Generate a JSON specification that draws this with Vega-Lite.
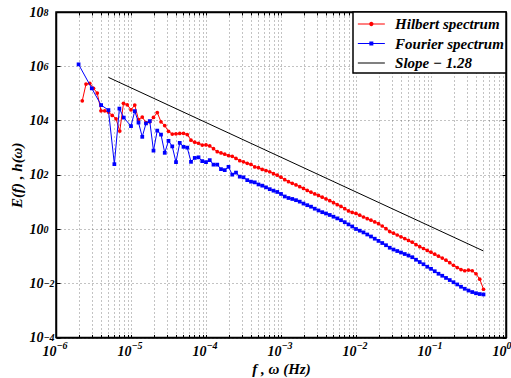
{
  "$schema": "https://vega.github.io/schema/vega-lite/v6.json",
  "width": 450,
  "height": 325.5,
  "autosize": "none",
  "padding": {"left": 56, "top": 12, "right": 5, "bottom": 40.5},
  "background": "white",
  "datasets": {
    "hilbert": [{"f":2.239e-6,"E":53300},{"f":2.512e-6,"E":220000},{"f":2.818e-6,"E":234000},{"f":3.162e-6,"E":153000},{"f":3.548e-6,"E":102600},{"f":3.981e-6,"E":22800},{"f":4.467e-6,"E":22800},{"f":5.012e-6,"E":20400},{"f":5.623e-6,"E":15400},{"f":6.31e-6,"E":11550},{"f":7.079e-6,"E":4060},{"f":7.943e-6,"E":42800},{"f":8.913e-6,"E":38000},{"f":1e-5,"E":24800},{"f":1.122e-5,"E":37000},{"f":1.259e-5,"E":10800},{"f":1.413e-5,"E":13400},{"f":1.585e-5,"E":8370},{"f":1.778e-5,"E":8950},{"f":1.995e-5,"E":13000},{"f":2.239e-5,"E":19600},{"f":2.512e-5,"E":8950},{"f":2.818e-5,"E":6480},{"f":3.162e-5,"E":4000},{"f":3.548e-5,"E":3150},{"f":3.981e-5,"E":3230},{"f":4.467e-5,"E":3340},{"f":5.012e-5,"E":3370},{"f":5.623e-5,"E":3040},{"f":6.31e-5,"E":1890},{"f":7.079e-5,"E":1580},{"f":7.943e-5,"E":1450},{"f":8.913e-5,"E":1240},{"f":1e-4,"E":1260},{"f":1.122e-4,"E":1155},{"f":1.259e-4,"E":911},{"f":1.413e-4,"E":706},{"f":1.585e-4,"E":637},{"f":1.778e-4,"E":571},{"f":1.995e-4,"E":511},{"f":2.239e-4,"E":478},{"f":2.512e-4,"E":399},{"f":2.818e-4,"E":329},{"f":3.162e-4,"E":299},{"f":3.548e-4,"E":263},{"f":3.981e-4,"E":240},{"f":4.467e-4,"E":194},{"f":5.012e-4,"E":183},{"f":5.623e-4,"E":157},{"f":6.31e-4,"E":142},{"f":7.079e-4,"E":129},{"f":7.943e-4,"E":110},{"f":8.913e-4,"E":96.7},{"f":0.001,"E":81.5},{"f":0.001122,"E":65.9},{"f":0.001259,"E":55.6},{"f":0.001413,"E":48.2},{"f":0.001585,"E":42},{"f":0.001778,"E":36.4},{"f":0.001995,"E":31.2},{"f":0.002239,"E":26.3},{"f":0.002512,"E":22.8},{"f":0.002818,"E":19.6},{"f":0.003162,"E":17.2},{"f":0.003548,"E":14.9},{"f":0.003981,"E":12.8},{"f":0.004467,"E":11.1},{"f":0.005012,"E":9.34},{"f":0.005623,"E":7.88},{"f":0.00631,"E":6.77},{"f":0.007079,"E":5.61},{"f":0.007943,"E":4.62},{"f":0.008913,"E":4.1},{"f":0.01,"E":3.73},{"f":0.01122,"E":3.23},{"f":0.01259,"E":2.77},{"f":0.01413,"E":2.4},{"f":0.01585,"E":2.11},{"f":0.01778,"E":1.83},{"f":0.01995,"E":1.57},{"f":0.02239,"E":1.29},{"f":0.02512,"E":1.03},{"f":0.02818,"E":0.802},{"f":0.03162,"E":0.7},{"f":0.03548,"E":0.601},{"f":0.03981,"E":0.516},{"f":0.04467,"E":0.442},{"f":0.05012,"E":0.38},{"f":0.05623,"E":0.326},{"f":0.0631,"E":0.263},{"f":0.07079,"E":0.222},{"f":0.07943,"E":0.191},{"f":0.08913,"E":0.162},{"f":0.1,"E":0.139},{"f":0.1122,"E":0.1175},{"f":0.1259,"E":0.0991},{"f":0.1413,"E":0.0851},{"f":0.1585,"E":0.0706},{"f":0.1778,"E":0.0571},{"f":0.1995,"E":0.0461},{"f":0.2239,"E":0.038},{"f":0.2512,"E":0.032},{"f":0.2818,"E":0.0289},{"f":0.3162,"E":0.0307},{"f":0.3548,"E":0.0289},{"f":0.3981,"E":0.0224},{"f":0.4467,"E":0.01405},{"f":0.5012,"E":0.00601}],
    "fourier": [{"f":2e-6,"E":1175000},{"f":3e-6,"E":153000},{"f":4e-6,"E":37000},{"f":5e-6,"E":24200},{"f":6e-6,"E":246},{"f":7e-6,"E":27500},{"f":8e-6,"E":12800},{"f":1e-5,"E":6220},{"f":1.122e-5,"E":22200},{"f":1.259e-5,"E":8370},{"f":1.413e-5,"E":2500},{"f":1.585e-5,"E":7820},{"f":1.778e-5,"E":9500},{"f":1.995e-5,"E":775},{"f":2.239e-5,"E":4240},{"f":2.512e-5,"E":3020},{"f":2.818e-5,"E":643},{"f":3.162e-5,"E":1780},{"f":3.548e-5,"E":1110},{"f":3.981e-5,"E":292},{"f":4.467e-5,"E":1500},{"f":5.012e-5,"E":1070},{"f":5.623e-5,"E":1000},{"f":6.31e-5,"E":299},{"f":7.079e-5,"E":417},{"f":7.943e-5,"E":439},{"f":8.913e-5,"E":318},{"f":1e-4,"E":292},{"f":1.122e-4,"E":346},{"f":1.259e-4,"E":236},{"f":1.413e-4,"E":236},{"f":1.585e-4,"E":161},{"f":1.778e-4,"E":148},{"f":1.995e-4,"E":196},{"f":2.239e-4,"E":101},{"f":2.512e-4,"E":120},{"f":2.818e-4,"E":85.1},{"f":3.162e-4,"E":80.2},{"f":3.548e-4,"E":63.2},{"f":3.981e-4,"E":55.6},{"f":4.467e-4,"E":52.4},{"f":5.012e-4,"E":43.9},{"f":5.623e-4,"E":39.6},{"f":6.31e-4,"E":34.3},{"f":7.079e-4,"E":29.4},{"f":7.943e-4,"E":25.9},{"f":8.913e-4,"E":23.2},{"f":0.001,"E":19.6},{"f":0.001122,"E":15.8},{"f":0.001259,"E":13.9},{"f":0.001413,"E":12.8},{"f":0.001585,"E":11.55},{"f":0.001778,"E":10.2},{"f":0.001995,"E":8.66},{"f":0.002239,"E":7.55},{"f":0.002512,"E":6.65},{"f":0.002818,"E":5.61},{"f":0.003162,"E":4.82},{"f":0.003548,"E":4.17},{"f":0.003981,"E":3.73},{"f":0.004467,"E":3.29},{"f":0.005012,"E":2.84},{"f":0.005623,"E":2.46},{"f":0.00631,"E":2.11},{"f":0.007079,"E":1.78},{"f":0.007943,"E":1.48},{"f":0.008913,"E":1.24},{"f":0.01,"E":1},{"f":0.01122,"E":0.866},{"f":0.01259,"E":0.749},{"f":0.01413,"E":0.627},{"f":0.01585,"E":0.529},{"f":0.01778,"E":0.439},{"f":0.01995,"E":0.364},{"f":0.02239,"E":0.304},{"f":0.02512,"E":0.2525},{"f":0.02818,"E":0.204},{"f":0.03162,"E":0.175},{"f":0.03548,"E":0.154},{"f":0.03981,"E":0.1358},{"f":0.04467,"E":0.1196},{"f":0.05012,"E":0.1052},{"f":0.05623,"E":0.0911},{"f":0.0631,"E":0.0737},{"f":0.07079,"E":0.0606},{"f":0.07943,"E":0.0502},{"f":0.08913,"E":0.0406},{"f":0.1,"E":0.034},{"f":0.1122,"E":0.0277},{"f":0.1259,"E":0.0224},{"f":0.1413,"E":0.0189},{"f":0.1585,"E":0.01569},{"f":0.1778,"E":0.01312},{"f":0.1995,"E":0.01089},{"f":0.2239,"E":0.00903},{"f":0.2512,"E":0.00743},{"f":0.2818,"E":0.00627},{"f":0.3162,"E":0.00538},{"f":0.3548,"E":0.00474},{"f":0.3981,"E":0.00428},{"f":0.4467,"E":0.004},{"f":0.5012,"E":0.00386}],
    "slope": [{"f":5e-6,"E":389000},{"f":0.5,"E":0.155}],
    "series": [{"s":"Hilbert spectrum"},{"s":"Fourier spectrum"},{"s":"Slope − 1.28"}]
  },
  "layer": [
    {
      "data": {"name": "hilbert"},
      "mark": {"type": "line", "color": "#ff0000", "strokeWidth": 1},
      "encoding": {
        "x": {"field": "f", "type": "quantitative", "scale": {"type": "log", "domain": [1e-6, 1], "nice": false},
          "axis": {"orient": "bottom", "values": [1e-6,2e-6,3e-6,4e-6,5e-6,6e-6,7e-6,8e-6,9e-6,1e-5,2e-5,3e-5,4e-5,5e-5,6e-5,7e-5,8e-5,9e-5,1e-4,2e-4,3e-4,4e-4,5e-4,6e-4,7e-4,8e-4,9e-4,0.001,0.002,0.003,0.004,0.005,0.006,0.007,0.008,0.009,0.01,0.02,0.03,0.04,0.05,0.06,0.07,0.08,0.09,0.1,0.2,0.3,0.4,0.5,0.6,0.7,0.8,0.9,1],
            "labelExpr": "abs(log(datum.value)/LN10 - round(log(datum.value)/LN10)) > 0.01 ? '' : '10'",
            "labelAlign": "right", "labelDx": 1, "labelBaseline": "middle", "labelFontSize": 14,
            "tickSize": -3, "labelPadding": 16.8, "grid": true, "title": "f , ω (Hz)", "titlePadding": 3}},
        "y": {"field": "E", "type": "quantitative", "scale": {"type": "log", "domain": [1e-4, 1e8], "nice": false},
          "axis": {"orient": "left", "values": [1e-4,1e-2,1,100,10000,1000000,100000000],
            "labelExpr": "'10'", "labelAlign": "right", "labelBaseline": "middle", "labelDy": 1, "labelFontSize": 14,
            "tickSize": -4, "labelPadding": 17, "grid": true, "title": "E(f) , h(ω)", "titlePadding": 5}}
      }
    },
    {
      "data": {"name": "hilbert"},
      "mark": {"type": "point", "shape": "circle", "filled": true, "color": "#ff0000", "size": 14, "opacity": 1},
      "encoding": {
        "x": {"field": "f", "type": "quantitative", "scale": {"type": "log", "domain": [1e-6, 1], "nice": false},
          "axis": {"orient": "bottom", "values": [1e-6,1e-5,1e-4,0.001,0.01,0.1,1],
            "labelExpr": "(round(log(datum.value)/LN10) < 0 ? '−' : '') + abs(round(log(datum.value)/LN10))",
            "labelAlign": "left", "labelDx": 0, "labelBaseline": "middle", "labelFontSize": 10,
            "ticks": false, "domain": false, "grid": false, "labelPadding": 7.5, "title": null}},
        "y": {"field": "E", "type": "quantitative", "scale": {"type": "log", "domain": [1e-4, 1e8], "nice": false},
          "axis": {"orient": "left", "values": [1e-4,1e-2,1,100,10000,1000000,100000000],
            "labelExpr": "(round(log(datum.value)/LN10) < 0 ? '−' : '') + abs(round(log(datum.value)/LN10))",
            "labelAlign": "left", "labelBaseline": "middle", "labelDy": -6, "labelFontSize": 10,
            "ticks": false, "domain": false, "grid": false, "labelPadding": 13, "title": null}}
      }
    },
    {
      "data": {"name": "fourier"},
      "mark": {"type": "line", "color": "#0000ff", "strokeWidth": 1},
      "encoding": {
        "x": {"field": "f", "type": "quantitative", "scale": {"type": "log", "domain": [1e-6, 1], "nice": false}, "axis": null},
        "y": {"field": "E", "type": "quantitative", "scale": {"type": "log", "domain": [1e-4, 1e8], "nice": false}, "axis": null}
      }
    },
    {
      "data": {"name": "fourier"},
      "mark": {"type": "point", "shape": "square", "filled": true, "color": "#0000ff", "size": 14, "opacity": 1},
      "encoding": {
        "x": {"field": "f", "type": "quantitative", "scale": {"type": "log", "domain": [1e-6, 1], "nice": false}, "axis": null},
        "y": {"field": "E", "type": "quantitative", "scale": {"type": "log", "domain": [1e-4, 1e8], "nice": false}, "axis": null}
      }
    },
    {
      "data": {"name": "slope"},
      "mark": {"type": "line", "color": "#000000", "strokeWidth": 1},
      "encoding": {
        "x": {"field": "f", "type": "quantitative", "scale": {"type": "log", "domain": [1e-6, 1], "nice": false},
          "axis": {"orient": "top", "values": [1e-6,2e-6,3e-6,4e-6,5e-6,6e-6,7e-6,8e-6,9e-6,1e-5,2e-5,3e-5,4e-5,5e-5,6e-5,7e-5,8e-5,9e-5,1e-4,2e-4,3e-4,4e-4,5e-4,6e-4,7e-4,8e-4,9e-4,0.001,0.002,0.003,0.004,0.005,0.006,0.007,0.008,0.009,0.01,0.02,0.03,0.04,0.05,0.06,0.07,0.08,0.09,0.1,0.2,0.3,0.4,0.5,0.6,0.7,0.8,0.9,1],
            "labels": false, "tickSize": -3, "grid": false, "title": null}},
        "y": {"field": "E", "type": "quantitative", "scale": {"type": "log", "domain": [1e-4, 1e8], "nice": false},
          "axis": {"orient": "right", "values": [1e-4,1e-2,1,100,10000,1000000,100000000], "labels": false, "tickSize": -4, "grid": false, "title": null}}
      }
    },
    {
      "data": {"name": "series"},
      "mark": {"type": "point", "filled": true, "opacity": 0},
      "encoding": {
        "color": {"field": "s", "type": "nominal",
          "scale": {"domain": ["Hilbert spectrum", "Fourier spectrum", "Slope − 1.28"], "range": ["#ff0000", "#0000ff", "#000000"]},
          "legend": {"title": null, "orient": "top-right", "offset": 0, "padding": 2, "rowPadding": 1.5, "symbolSize": 400, "symbolOffset": 6.35, "labelOffset": 13.7, "symbolOpacity": 1, "symbolStrokeWidth": 0, "strokeColor": "#000000", "fillColor": "#ffffff", "labelFont": "Liberation Serif", "labelFontWeight": "bold", "labelFontStyle": "italic", "labelFontSize": 15, "labelColor": "#000000"}},
        "shape": {"field": "s", "type": "nominal",
          "scale": {"domain": ["Hilbert spectrum", "Fourier spectrum", "Slope − 1.28"], "range": [
            "M-1.35,-0.05H-0.21V0.05H-1.35ZM0.21,-0.05H1.35V0.05H0.21ZM-0.22,0A0.22,0.22,0,1,0,0.22,0A0.22,0.22,0,1,0,-0.22,0Z",
            "M-1.35,-0.05H-0.2V0.05H-1.35ZM0.2,-0.05H1.35V0.05H0.2ZM-0.2,-0.2H0.2V0.2H-0.2Z",
            "M-1.35,-0.05H1.35V0.05H-1.35Z"]},
          "legend": {"title": null, "orient": "top-right", "offset": 0, "padding": 2, "rowPadding": 1.5, "symbolSize": 400, "symbolOffset": 6.35, "labelOffset": 13.7, "symbolOpacity": 1, "symbolStrokeWidth": 0, "strokeColor": "#000000", "fillColor": "#ffffff", "labelFont": "Liberation Serif", "labelFontWeight": "bold", "labelFontStyle": "italic", "labelFontSize": 15, "labelColor": "#000000"}}
      }
    }
  ],
  "resolve": {"axis": {"x": "independent", "y": "independent"}},
  "config": {
    "view": {"stroke": "#000000", "strokeWidth": 1.5},
    "legend": {"strokeWidth": 1.5},
    "axis": {
      "labelFont": "Liberation Serif", "labelFontWeight": "bold", "labelFontStyle": "italic", "labelFontSize": 13, "labelColor": "#000000",
      "titleFont": "Liberation Serif", "titleFontWeight": "bold", "titleFontStyle": "italic", "titleFontSize": 15, "titleColor": "#000000",
      "domainColor": "#000000", "domainWidth": 1.5, "tickColor": "#000000", "tickWidth": 1,
      "gridColor": "#555555", "gridDash": [1, 3], "gridWidth": 0.7, "labelOverlap": false, "labelFlush": false
    }
  }
}
